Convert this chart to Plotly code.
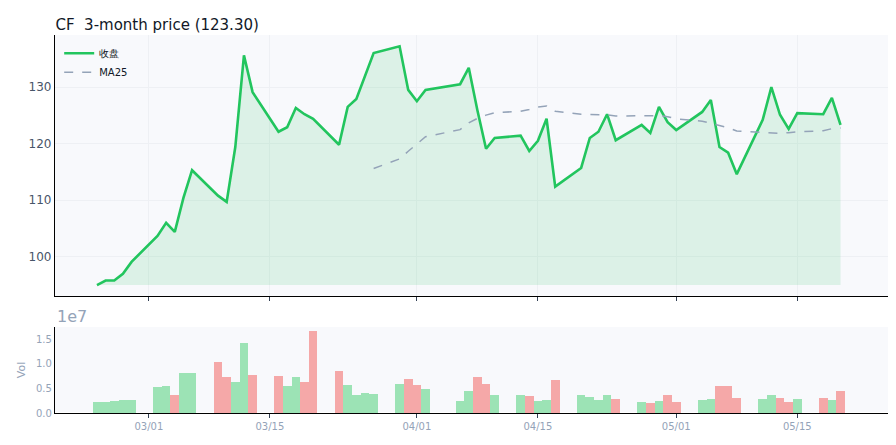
import pandas as pd
import plotly.graph_objects as go
from plotly.subplots import make_subplots

dates = pd.to_datetime([
    "2026-02-23", "2026-02-24", "2026-02-25", "2026-02-26", "2026-02-27",
    "2026-03-02", "2026-03-03", "2026-03-04", "2026-03-05", "2026-03-06",
    "2026-03-09", "2026-03-10", "2026-03-11", "2026-03-12", "2026-03-13",
    "2026-03-16", "2026-03-17", "2026-03-18", "2026-03-19", "2026-03-20",
    "2026-03-23", "2026-03-24", "2026-03-25", "2026-03-26", "2026-03-27",
    "2026-03-30", "2026-03-31", "2026-04-01", "2026-04-02",
    "2026-04-06", "2026-04-07", "2026-04-08", "2026-04-09", "2026-04-10",
    "2026-04-13", "2026-04-14", "2026-04-15", "2026-04-16", "2026-04-17",
    "2026-04-20", "2026-04-21", "2026-04-22", "2026-04-23", "2026-04-24",
    "2026-04-27", "2026-04-28", "2026-04-29", "2026-04-30", "2026-05-01",
    "2026-05-04", "2026-05-05", "2026-05-06", "2026-05-07", "2026-05-08",
    "2026-05-11", "2026-05-12", "2026-05-13", "2026-05-14", "2026-05-15",
    "2026-05-18", "2026-05-19", "2026-05-20",
])
close = [
    95.0, 95.8, 95.8, 97.0, 99.1,
    103.7, 106.0, 104.4, 110.4, 115.3,
    110.8, 109.7, 119.4, 135.6, 129.1,
    122.1, 122.9, 126.3, 125.2, 124.4,
    119.8, 126.5, 127.9, 132.1, 136.0,
    137.2, 129.5, 127.5, 129.5,
    130.5, 133.4, 125.9, 119.1, 121.0,
    121.4, 118.7, 120.5, 124.4, 112.4,
    115.7, 121.0, 122.1, 125.2, 120.6,
    123.3, 121.9, 126.5, 123.8, 122.4,
    125.6, 127.7, 119.4, 118.4, 114.6,
    124.2, 130.0, 125.1, 122.6, 125.4,
    125.2, 128.1, 123.3,
]
volume_m = [
    2.3, 2.3, 2.5, 2.7, 2.7,
    5.2, 5.4, 3.6, 8.2, 8.2,
    10.4, 7.4, 6.4, 14.2, 7.8,
    7.6, 5.4, 7.4, 6.4, 16.6,
    8.6, 5.6, 3.6, 4.0, 3.8,
    6.0, 7.0, 5.6, 4.8,
    2.4, 4.4, 7.4, 5.8, 3.6,
    3.6, 3.4, 2.4, 2.6, 6.8,
    3.6, 3.2, 2.6, 3.6, 2.8,
    2.2, 2.0, 2.4, 3.6, 2.2,
    2.6, 2.8, 5.4, 5.4, 3.0,
    2.8, 3.6, 3.0, 2.2, 2.8,
    3.0, 2.6, 4.4,
]

df = pd.DataFrame({"close": close, "vol": [v * 1e6 for v in volume_m]}, index=dates)
df["ma25"] = df["close"].rolling(25).mean()
up = df["close"].diff().fillna(0) >= 0
bar_colors = ["#9ce3b5" if u else "#f5a8a8" for u in up]

fig = make_subplots(rows=2, cols=1, shared_xaxes=False)

# shaded area under the close line, down to the lowest close
base = df["close"].min()
fig.add_trace(go.Scatter(x=df.index, y=[base] * len(df), mode="lines",
                         line=dict(width=0), showlegend=False, hoverinfo="skip"), row=1, col=1)
fig.add_trace(go.Scatter(x=df.index, y=df["close"], mode="lines", line=dict(width=0),
                         fill="tonexty", fillcolor="rgba(34,197,94,0.13)",
                         showlegend=False, hoverinfo="skip"), row=1, col=1)
fig.add_trace(go.Scatter(x=df.index, y=df["close"], mode="lines", name="收盘",
                         line=dict(color="#22c55e", width=2.6)), row=1, col=1)
fig.add_trace(go.Scatter(x=df.index, y=df["ma25"], mode="lines", name="MA25",
                         line=dict(color="#94a3b8", width=1.5, dash="dash")), row=1, col=1)
fig.add_trace(go.Bar(x=df.index, y=df["vol"], marker=dict(color=bar_colors, line=dict(width=0)),
                     showlegend=False), row=2, col=1)

xr = ["2026-02-18 03:30", "2026-05-26 01:40"]
tickv = pd.to_datetime(["2026-03-01", "2026-03-15", "2026-04-01", "2026-04-15", "2026-05-01", "2026-05-15"])
for r in (1, 2):
    fig.update_xaxes(range=xr, tickvals=tickv, ticktext=[d.strftime("%m/%d") for d in tickv],
                     showline=True, linecolor="black", linewidth=1.2, ticks="outside",
                     tickcolor="#334155", ticklen=4, showgrid=(r == 1), gridcolor="#eef0f4",
                     tickfont=dict(size=10, color="#94a3b8"), automargin=False, row=r, col=1)
fig.update_xaxes(showticklabels=False, row=1, col=1)
fig.update_yaxes(range=[93.1, 139.2], tickvals=[100, 110, 120, 130], showline=True,
                 linecolor="black", linewidth=1.2, gridcolor="#eef0f4", automargin=False,
                 domain=[0.31, 1.0], tickfont=dict(size=12, color="#475569"), row=1, col=1)
fig.update_yaxes(range=[0, 1.75e7], tickvals=[0, 5e6, 1e7, 1.5e7],
                 ticktext=["0.0", "0.5", "1.0", "1.5"], showline=True, linecolor="black",
                 linewidth=1.2, showgrid=False, automargin=False, domain=[0.0, 0.2275],
                 title=dict(text="Vol", font=dict(size=11, color="#94a3b8"), standoff=8),
                 tickfont=dict(size=10, color="#94a3b8"), row=2, col=1)

fig.add_annotation(text="1e7", xref="paper", yref="paper", x=0, y=0.254, xanchor="left",
                   yanchor="middle", showarrow=False, font=dict(size=16, color="#94a3b8"))

fig.update_layout(
    width=896, height=445, bargap=0,
    margin=dict(l=47, r=11, t=27, b=40),
    title=dict(text="CF  3-month price (123.30)", x=0.053, y=0.975, xanchor="left",
               font=dict(size=15, color="#111827")),
    paper_bgcolor="white", plot_bgcolor="#f8f9fc",
    font=dict(family="DejaVu Sans"),
    legend=dict(x=0.005, y=0.99, xanchor="left", yanchor="top", bgcolor="rgba(0,0,0,0)",
                traceorder="normal", font=dict(size=10, color="#111827")),
)
fig.write_html("out.html")
